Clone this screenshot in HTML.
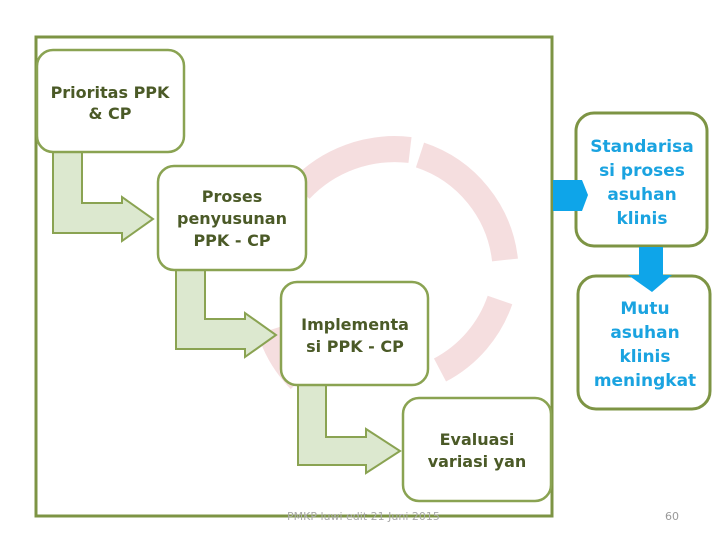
<!DOCTYPE html>
<html><head><style>
body{margin:0;width:720px;height:540px;background:#fff;overflow:hidden;font-family:"DejaVu Sans","Liberation Sans",sans-serif}
</style></head><body>
<svg width="720" height="540" viewBox="0 0 720 540" xmlns="http://www.w3.org/2000/svg">
<g fill="none" stroke="#f3d6d8" stroke-width="26" opacity="0.8">
<path d="M300 190 A130 130 0 0 1 410 150"/>
<path d="M420 155 A125 125 0 0 1 505 260"/>
<path d="M500 300 A125 125 0 0 1 440 370"/>
<path d="M300 380 A125 125 0 0 1 270 330"/>
</g>
<rect x="36" y="37" width="516" height="479" fill="none" stroke="#7d9444" stroke-width="3"/>
<g fill="#dce8cf" stroke="#8aa352" stroke-width="2">
<path d="M53 152 V233 H122 V241 L153 219 L122 197 V203 H82 V152 Z"/>
<path d="M176 268 V349 H245 V357 L276 335 L245 313 V319 H205 V268 Z"/>
<path d="M298 385 V465 H366 V473 L400 451 L366 429 V437 H326 V385 Z"/>
</g>
<g fill="#fff" stroke="#8aa352" stroke-width="2.5">
<rect x="37" y="50" width="147" height="102" rx="16"/>
<rect x="158" y="166" width="148" height="104" rx="16"/>
<rect x="281" y="282" width="147" height="103" rx="16"/>
<rect x="403" y="398" width="148" height="103" rx="16"/>
<rect x="576" y="113" width="131" height="133" rx="18" stroke="#7d9444" stroke-width="3"/>
<rect x="578" y="276" width="132" height="133" rx="18" stroke="#7d9444" stroke-width="3"/>
</g>
<g fill="#0ea5e9">
<path d="M553 180 H582 L588 195 L582 211 H553 Z"/>
<path d="M639 247 H663 V275 H672 L652 292 L628 275 H639 Z"/>
</g>
<g font-weight="bold" font-size="16" fill="#4b5a27" text-anchor="middle">
<text x="110" y="98">Prioritas PPK</text><text x="110" y="119">&amp; CP</text>
<text x="232" y="202">Proses</text><text x="232" y="224">penyusunan</text><text x="232" y="246">PPK - CP</text>
<text x="355" y="330">Implementa</text><text x="355" y="352">si PPK - CP</text>
<text x="477" y="445">Evaluasi</text><text x="477" y="467">variasi yan</text>
</g>
<g font-weight="bold" font-size="17" fill="#1aa3e0" text-anchor="middle">
<text x="642" y="152">Standarisa</text><text x="642" y="176">si proses</text><text x="642" y="200">asuhan</text><text x="642" y="224">klinis</text>
<text x="645" y="314">Mutu</text><text x="645" y="338">asuhan</text><text x="645" y="362">klinis</text><text x="645" y="386">meningkat</text>
</g>
<text x="287" y="520" font-size="11" fill="#aaa">PMKP luwi edit 21 Juni 2015</text>
<text x="665" y="520" font-size="11" fill="#999">60</text>
</svg>
</body></html>
